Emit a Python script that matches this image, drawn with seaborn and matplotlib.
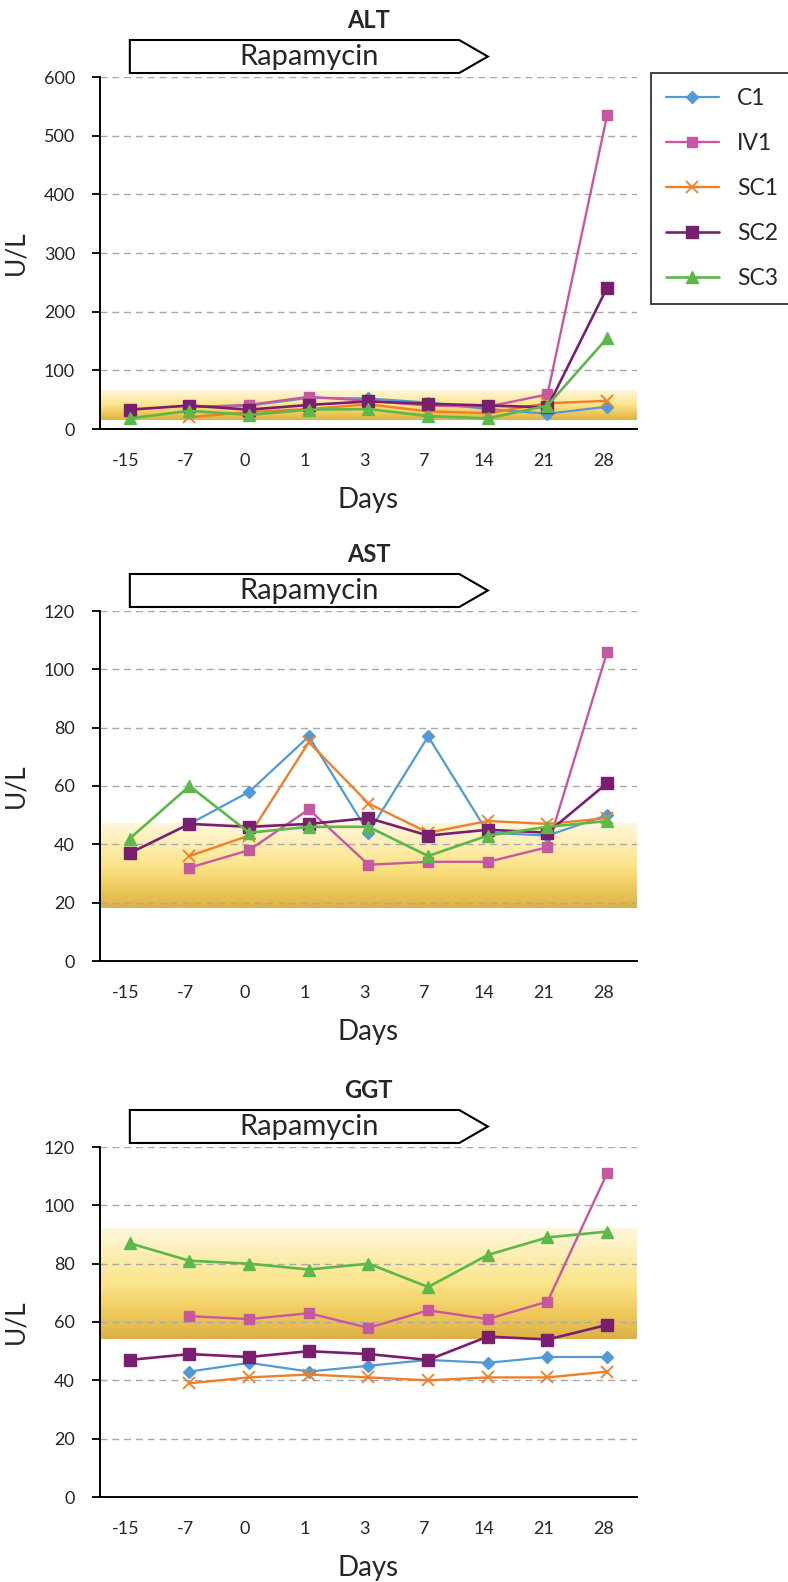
import numpy as np
import pandas as pd
import matplotlib
matplotlib.use('Agg')
import matplotlib.pyplot as plt
import matplotlib.transforms as mtransforms
from matplotlib.colors import LinearSegmentedColormap
from matplotlib.patches import Polygon
import seaborn as sns

# ---- data ----
days = ['-15', '-7', '0', '1', '3', '7', '14', '21', '28']
groups = ['C1', 'IV1', 'SC1', 'SC2', 'SC3']
nan = np.nan

alt_c1 = [nan, 38, 40, 53, 52, 45, 34, 26, 38]
alt_iv1 = [nan, 37, 41, 55, 48, 40, 38, 59, 535]
alt_sc1 = [nan, 20, 29, 34, 42, 30, 27, 44, 48]
alt_sc2 = [33, 40, 33, 41, 47, 43, 40, 37, 241]
alt_sc3 = [18, 31, 24, 33, 34, 22, 18, 40, 155]

ast_c1 = [nan, 47, 58, 77, 44, 77, 44, 43, 50]
ast_iv1 = [nan, 32, 38, 52, 33, 34, 34, 39, 106]
ast_sc1 = [nan, 36, 43, 75, 54, 44, 48, 47, 49]
ast_sc2 = [37, 47, 46, 47, 49, 43, 45, 44, 61]
ast_sc3 = [42, 60, 44, 46, 46, 36, 43, 46, 48]

ggt_c1 = [nan, 43, 46, 43, 45, 47, 46, 48, 48]
ggt_iv1 = [nan, 62, 61, 63, 58, 64, 61, 67, 111]
ggt_sc1 = [nan, 39, 41, 42, 41, 40, 41, 41, 43]
ggt_sc2 = [47, 49, 48, 50, 49, 47, 55, 54, 59]
ggt_sc3 = [87, 81, 80, 78, 80, 72, 83, 89, 91]

# normal reference ranges (shaded band)
alt_range = (15, 66)
ast_range = (18, 47)
ggt_range = (54, 92)

# rapamycin given from day -15 to day 14
rapa_start, rapa_end = '-15', '14'

panels = [
    ('ALT', [alt_c1, alt_iv1, alt_sc1, alt_sc2, alt_sc3], alt_range, 600, 100),
    ('AST', [ast_c1, ast_iv1, ast_sc1, ast_sc2, ast_sc3], ast_range, 120, 20),
    ('GGT', [ggt_c1, ggt_iv1, ggt_sc1, ggt_sc2, ggt_sc3], ggt_range, 120, 20),
]

styles = {
    'C1':  dict(color='#529ad6', marker='D', markersize=6, lw=1.6),
    'IV1': dict(color='#c658a2', marker='s', markersize=7.5, lw=1.7),
    'SC1': dict(color='#f07f2a', marker='x', markersize=8, lw=1.7, markeredgewidth=1.3),
    'SC2': dict(color='#7a1f6f', marker='s', markersize=8, lw=1.9),
    'SC3': dict(color='#5cb848', marker='^', markersize=8, lw=1.9),
}

sns.set_style('white')
plt.rcParams['font.family'] = ['Lato', 'DejaVu Sans']

band_cmap = LinearSegmentedColormap.from_list(
    'band', ['#dcb145', '#efcb5e', '#fbe48a', '#fdeeb2', '#fef6dc'])

fig = plt.figure(figsize=(7.88, 15.82), dpi=100)
W, H = 788, 1582
ax_left, ax_w = 100 / W, 537 / W
tops = [77, 611, 1147]
heights = [352, 350, 350]

x = np.arange(len(days))
first_ax = None
for (name, series, band, ymax, ystep), top, h in zip(panels, tops, heights):
    ax = fig.add_axes([ax_left, 1 - (top + h) / H, ax_w, h / H])
    if first_ax is None:
        first_ax = ax

    # shaded normal range
    grad = np.linspace(0, 1, 256).reshape(-1, 1)
    ax.imshow(grad, cmap=band_cmap, origin='lower', aspect='auto',
              extent=[-0.5, len(days) - 0.5, band[0], band[1]], zorder=1)

    for g, vals in zip(groups, series):
        st = styles[g]
        sns.lineplot(x=x, y=vals, ax=ax, legend=False, label=g,
                     color=st['color'], marker=st['marker'],
                     markersize=st['markersize'], lw=st['lw'],
                     markeredgecolor=st['color'],
                     markeredgewidth=st.get('markeredgewidth', 1.0),
                     zorder=3)

    ax.set_xlim(-0.5, len(days) - 0.5)
    ax.set_ylim(0, ymax)
    ax.set_yticks(np.arange(0, ymax + 1, ystep))
    ax.set_xticks(x)
    ax.set_xticklabels(days)
    ax.set_xticks(np.arange(len(days) + 1) - 0.5, minor=True)
    ax.tick_params(axis='x', which='major', length=0, pad=17, labelsize=13)
    ax.tick_params(axis='x', which='minor', length=5, width=1.3, direction='out', color='black')
    ax.tick_params(axis='y', length=6, width=1.3, direction='out', pad=12, labelsize=13, color='black')
    ax.tick_params(left=True, bottom=True)
    # labels sit a few pixels left of the category centre, as in the source
    shift = mtransforms.ScaledTranslation(-4 / 100, 0, fig.dpi_scale_trans)
    for lab in ax.get_xticklabels():
        lab.set_transform(lab.get_transform() + shift)

    ax.yaxis.grid(True, ls=(0, (5, 3.5)), color='#a8a8a8', lw=1.0)
    ax.xaxis.grid(False)
    ax.set_axisbelow('line')

    sns.despine(ax=ax)
    for s in ['left', 'bottom']:
        ax.spines[s].set_color('black')
        ax.spines[s].set_linewidth(1.4)

    ax.set_xlabel('Days', fontsize=20, labelpad=13)
    ax.set_ylabel('U/L', fontsize=19)
    ax.yaxis.set_label_coords(-72 / 537, 0.5)

    ax.text(0.5, 1 + 57 / h, name, transform=ax.transAxes, ha='center',
            va='center', fontsize=17, fontweight='bold')

    # rapamycin arrow
    trans = mtransforms.blended_transform_factory(ax.transData, ax.transAxes)
    x0, x1 = days.index(rapa_start), days.index(rapa_end)
    y0, y1 = 1 + 4 / h, 1 + 37 / h
    ym = (y0 + y1) / 2
    body = x1 - 0.48
    arrow = Polygon([(x0, y0), (body, y0), (x1, ym), (body, y1), (x0, y1)],
                    closed=True, facecolor='white', edgecolor='black', lw=1.5,
                    transform=trans, clip_on=False, zorder=5)
    ax.add_patch(arrow)
    ax.text((x0 + x1) / 2, ym, 'Rapamycin', transform=trans, ha='center',
            va='center', fontsize=21, zorder=6)

handles, labels = first_ax.get_legend_handles_labels()
leg = fig.legend(handles, labels, loc='upper left',
                 bbox_to_anchor=(651 / W, 1 - 73 / H), borderaxespad=0,
                 fontsize=16.5, frameon=True, fancybox=False, edgecolor='black',
                 labelspacing=1.05, handlelength=2.3, handletextpad=0.8,
                 borderpad=0.65)
leg.get_frame().set_linewidth(1.3)

fig.savefig('out.png', dpi=100)
